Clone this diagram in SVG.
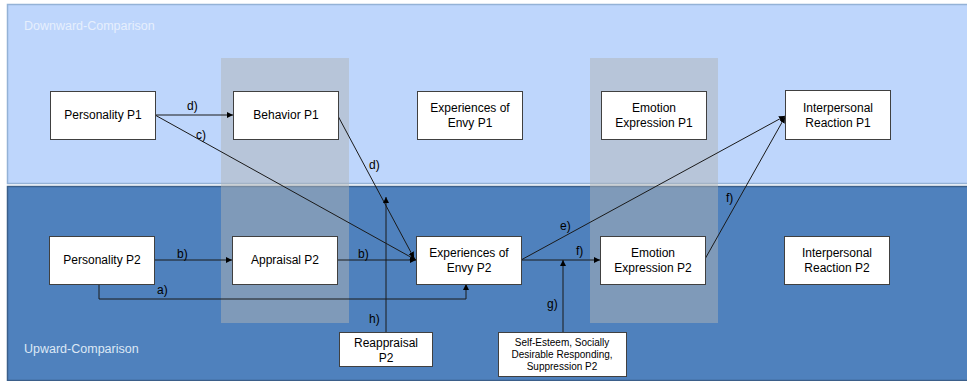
<svg xmlns="http://www.w3.org/2000/svg" width="967" height="381" viewBox="0 0 967 381">
<style>
.box{fill:#fff;stroke:#404040;stroke-width:1}
.t{font-family:"Liberation Sans",Arial,sans-serif;font-size:12px;fill:#000;text-anchor:middle}
.s{font-family:"Liberation Sans",Arial,sans-serif;font-size:10px;fill:#000;text-anchor:middle}
.lab{font-family:"Liberation Sans",Arial,sans-serif;font-size:12px;fill:#000}
.pl{font-family:"Liberation Sans",Arial,sans-serif;font-size:12.5px}
.ln{fill:none;stroke:#1a1a1a;stroke-width:1}
.col{fill:#b0b4b5;fill-opacity:0.5}
</style>
<defs>
<marker id="ah" viewBox="0 0 8 8" refX="8" refY="4" markerWidth="6" markerHeight="6" orient="auto" markerUnits="userSpaceOnUse">
<path d="M0,0 L8,4 L0,8 z" fill="#000"/>
</marker>
</defs>
<rect x="0" y="0" width="967" height="381" fill="#ffffff"/>
<g id="panel-top">
<rect x="7.5" y="4.5" width="962" height="179" fill="#bed6fc" stroke="#94b2d6" stroke-width="1.5"/>
<text class="pl" x="24" y="30" fill="#e6effc">Downward-Comparison</text>
</g>
<g id="panel-bottom">
<rect x="7.5" y="186.5" width="962" height="194" fill="#4f81bd" stroke="#3b5f8a" stroke-width="1.5"/>
<text class="pl" x="24" y="353" fill="#dde8f5">Upward-Comparison</text>
</g>
<g id="columns">
<rect class="col" x="221" y="58" width="128" height="265"/>
<rect class="col" x="590" y="58" width="128" height="265"/>
</g>
<g id="connectors">
<line class="ln" x1="155" y1="115" x2="233" y2="115" marker-end="url(#ah)"/>
<text class="lab" x="187" y="110">d)</text>
<line class="ln" x1="155" y1="115" x2="416" y2="260" marker-end="url(#ah)"/>
<text class="lab" x="196" y="139">c)</text>
<line class="ln" x1="338" y1="116" x2="414" y2="258" marker-end="url(#ah)"/>
<text class="lab" x="369" y="169">d)</text>
<line class="ln" x1="154" y1="260" x2="232" y2="260" marker-end="url(#ah)"/>
<text class="lab" x="177" y="258">b)</text>
<line class="ln" x1="337" y1="260" x2="416" y2="260" marker-end="url(#ah)"/>
<text class="lab" x="358" y="258">b)</text>
<polyline class="ln" points="99,284 99,299 466,299 466,284" marker-end="url(#ah)"/>
<text class="lab" x="157" y="294">a)</text>
<line class="ln" x1="386" y1="332" x2="386" y2="197" marker-end="url(#ah)"/>
<text class="lab" x="369" y="323">h)</text>
<line class="ln" x1="521" y1="260" x2="785" y2="116" marker-end="url(#ah)"/>
<text class="lab" x="560" y="230">e)</text>
<line class="ln" x1="521" y1="260" x2="600" y2="260" marker-end="url(#ah)"/>
<text class="lab" x="576" y="255">f)</text>
<line class="ln" x1="705" y1="259" x2="785" y2="117" marker-end="url(#ah)"/>
<text class="lab" x="726" y="202">f)</text>
<line class="ln" x1="563" y1="332" x2="563" y2="260" marker-end="url(#ah)"/>
<text class="lab" x="547" y="308">g)</text>
</g>
<g id="personality-p1"><rect class="box" x="50.5" y="91.5" width="105" height="48"/><text class="t" x="103" y="119">Personality P1</text></g>
<g id="behavior-p1"><rect class="box" x="233.5" y="91.5" width="105" height="48"/><text class="t" x="286" y="119">Behavior P1</text></g>
<g id="envy-p1"><rect class="box" x="417.5" y="91.5" width="105" height="48"/><text class="t" x="470" y="112">Experiences of</text><text class="t" x="470" y="127">Envy P1</text></g>
<g id="emotion-p1"><rect class="box" x="601.5" y="91.5" width="105" height="48"/><text class="t" x="654" y="112">Emotion</text><text class="t" x="654" y="127">Expression P1</text></g>
<g id="reaction-p1"><rect class="box" x="785.5" y="90.5" width="105" height="49"/><text class="t" x="838" y="112">Interpersonal</text><text class="t" x="838" y="127">Reaction P1</text></g>
<g id="personality-p2"><rect class="box" x="49.5" y="236.5" width="105" height="48"/><text class="t" x="102" y="264">Personality P2</text></g>
<g id="appraisal-p2"><rect class="box" x="232.5" y="236.5" width="105" height="48"/><text class="t" x="285" y="264">Appraisal P2</text></g>
<g id="envy-p2"><rect class="box" x="416.5" y="236.5" width="105" height="48"/><text class="t" x="469" y="257">Experiences of</text><text class="t" x="469" y="272">Envy P2</text></g>
<g id="emotion-p2"><rect class="box" x="600.5" y="236.5" width="105" height="48"/><text class="t" x="653" y="257">Emotion</text><text class="t" x="653" y="272">Expression P2</text></g>
<g id="reaction-p2"><rect class="box" x="784.5" y="236.5" width="105" height="48"/><text class="t" x="837" y="257">Interpersonal</text><text class="t" x="837" y="272">Reaction P2</text></g>
<g id="reappraisal-p2"><rect class="box" x="339.5" y="332.5" width="93" height="34"/><text class="t" x="386" y="347">Reappraisal</text><text class="t" x="386" y="362">P2</text></g>
<g id="self-esteem"><rect class="box" x="498.5" y="332.5" width="128" height="44"/><text class="s" x="562" y="346">Self-Esteem, Socially</text><text class="s" x="562" y="358">Desirable Responding,</text><text class="s" x="562" y="370">Suppression P2</text></g>
</svg>
